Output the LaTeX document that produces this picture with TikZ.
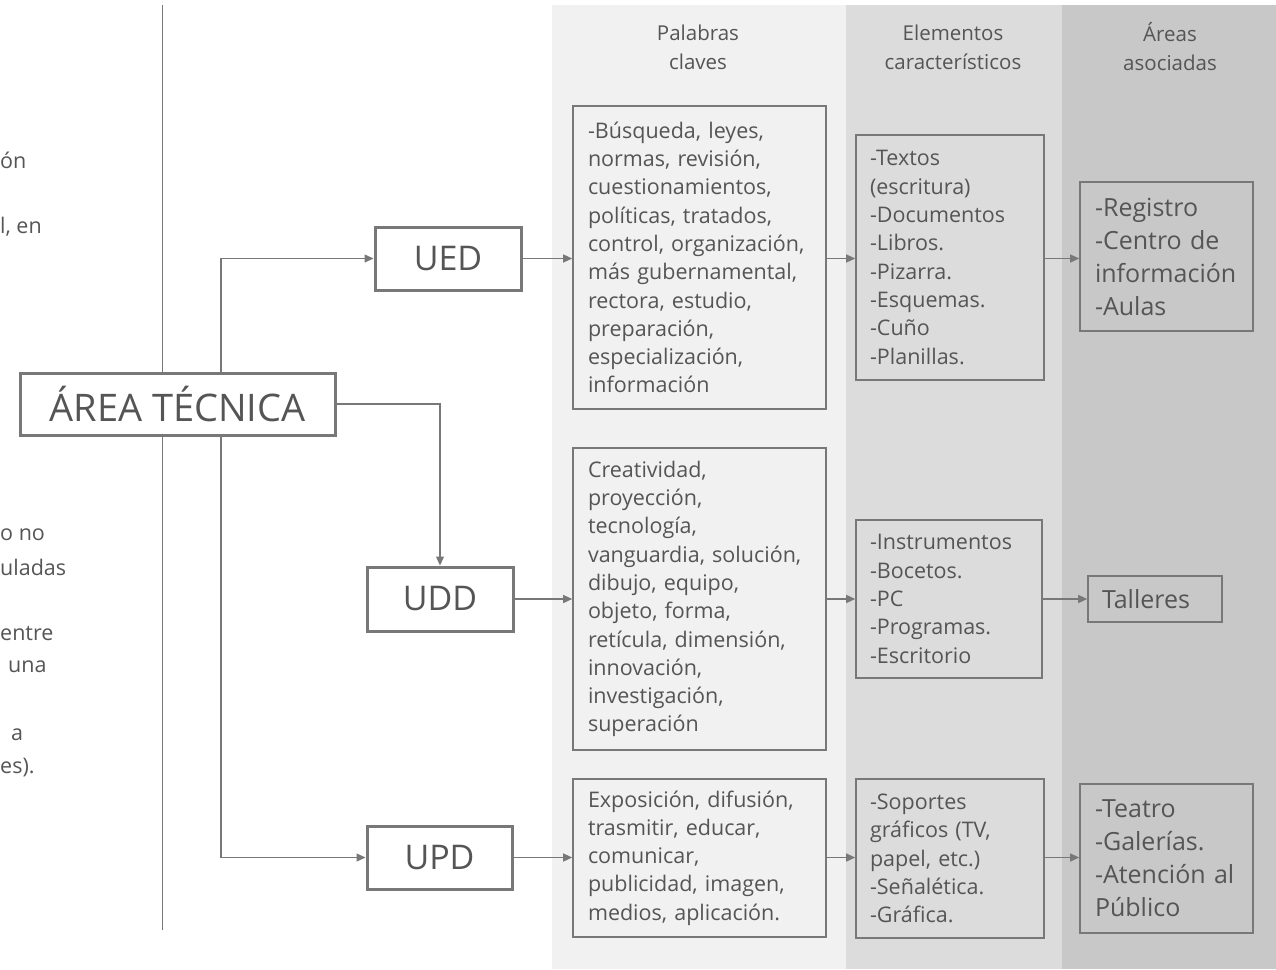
\documentclass[tikz,border=0pt]{standalone}
\usepackage{fontspec}
\setmainfont{Open Sans}
\usetikzlibrary{arrows.meta}
\definecolor{txt}{HTML}{555555}
\definecolor{ln}{HTML}{787878}
\definecolor{bandA}{HTML}{F1F1F1}
\definecolor{bandB}{HTML}{DCDCDC}
\definecolor{bandC}{HTML}{C8C8C8}
\begin{document}
\begin{tikzpicture}[x=1pt,y=-1pt,
  mainbox/.style={draw=ln, fill=white, line width=3pt, text=txt, inner sep=0pt},
  kwbox/.style={draw=ln, line width=1.6pt, text=txt, align=left, inner ysep=0pt,
     font=\fontsize{21.5}{28.3}\selectfont},
  arbox/.style={draw=ln, line width=1.6pt, text=txt, align=left, inner ysep=0pt,
     font=\fontsize{25}{33}\selectfont},
  head/.style={text=txt, align=center, font=\fontsize{20.5}{29}\selectfont},
  frag/.style={text=txt, anchor=west, inner sep=0pt, font=\fontsize{21.5}{24}\selectfont},
  conn/.style={draw=ln, line width=1.3pt, -{Triangle[length=9pt,width=8pt]}}]
\useasboundingbox (0,0) rectangle (1276,969);
% background bands
\fill[bandA] (552,5) rectangle (846,969);
\fill[bandB] (846,5) rectangle (1062,969);
\fill[bandC] (1062,5) rectangle (1276,969);
% left divider
\draw[ln, line width=1pt] (162,5) -- (162,930);
% cut-off text fragments on the left
\node[frag] (f1) at (0,160) {ón};
\node[frag] (f2) at (0,227) {l, en};
\node[frag] (f3) at (0,535) {o no};
\node[frag] (f4) at (0,567) {uladas};
\node[frag] (f5) at (0,634) {entre};
\node[frag] (f6) at (8,667) {una};
\node[frag] (f7) at (11,735) {a};
\node[frag] (f8) at (0,768) {es).};
% headers
\node[head] (h1) at (698,47) {Palabras\\claves};
\node[head] (h2) at (953,47) {Elementos\\característicos};
\node[head] (h3) at (1170,47) {Áreas\\asociadas};
% main nodes
\node[mainbox, minimum width=315pt, minimum height=62pt, font=\fontsize{38}{40}\selectfont] (area) at (177.5,404) {ÁREA TÉCNICA};
\node[mainbox, minimum width=146pt, minimum height=63pt, font=\fontsize{34}{36}\selectfont] (ued) at (448,258.5) {UED};
\node[mainbox, minimum width=146pt, minimum height=64pt, font=\fontsize{34}{36}\selectfont] (udd) at (440,599) {UDD};
\node[mainbox, minimum width=145pt, minimum height=63pt, font=\fontsize{34}{36}\selectfont] (upd) at (439.5,857.5) {UPD};
% keyword boxes
\node[kwbox, inner xsep=15pt, text width=223pt, minimum height=303pt] (k1) at (699.5,257.5)
 {-Búsqueda, leyes,\\normas, revisión,\\cuestionamientos,\\políticas, tratados,\\control, organización,\\más gubernamental,\\rectora, estudio,\\preparación,\\especialización,\\información};
\node[kwbox, inner xsep=15pt, text width=223pt, minimum height=302pt] (k2) at (699.5,599)
 {Creatividad,\\proyección,\\tecnología,\\vanguardia, solución,\\dibujo, equipo,\\objeto, forma,\\retícula, dimensión,\\innovación,\\investigación,\\superación};
\node[kwbox, inner xsep=15pt, text width=223pt, minimum height=158pt] (k3) at (699.5,858)
 {Exposición, difusión,\\trasmitir, educar,\\comunicar,\\publicidad, imagen,\\medios, aplicación.};
% element boxes
\node[kwbox, inner xsep=14pt, text width=160pt, minimum height=245pt] (e1) at (950,257.5)
 {-Textos\\(escritura)\\-Documentos\\-Libros.\\-Pizarra.\\-Esquemas.\\-Cuño\\-Planillas.};
\node[kwbox, inner xsep=14pt, text width=158pt, minimum height=158pt] (e2) at (949,599)
 {-Instrumentos\\-Bocetos.\\-PC\\-Programas.\\-Escritorio};
\node[kwbox, inner xsep=14pt, text width=160pt, minimum height=159pt] (e3) at (950,858.5)
 {-Soportes\\gráficos (TV,\\papel, etc.)\\-Señalética.\\-Gráfica.};
% area boxes
\node[arbox, inner xsep=15pt, text width=143pt, minimum height=149pt] (a1) at (1166.5,256.5)
 {-Registro\\-Centro de\\información\\-Aulas};
\node[arbox, inner xsep=14pt, text width=106pt, minimum height=46pt] (a2) at (1155,599)
 {Talleres};
\node[arbox, inner xsep=15pt, text width=143pt, minimum height=149pt] (a3) at (1166.5,858.5)
 {-Teatro\\-Galerías.\\-Atención al\\Público};
% connectors
\coordinate (bx) at (221,0);
\draw[conn] (bx |- area.north) |- (ued.west);
\draw[conn] (bx |- area.south) |- (upd.west);
\draw[conn] (area.east) -| (udd.north);
\draw[conn] (ued.east) -- (ued.east -| k1.west);
\draw[conn] (udd.east) -- (udd.east -| k2.west);
\draw[conn] (upd.east) -- (upd.east -| k3.west);
\draw[conn] (k1.east |- ued.east) -- (ued.east -| e1.west);
\draw[conn] (k2.east |- udd.east) -- (udd.east -| e2.west);
\draw[conn] (k3.east |- upd.east) -- (upd.east -| e3.west);
\draw[conn] (e1.east |- ued.east) -- (ued.east -| a1.west);
\draw[conn] (e2.east |- udd.east) -- (udd.east -| a2.west);
\draw[conn] (e3.east |- upd.east) -- (upd.east -| a3.west);
\end{tikzpicture}
\end{document}
